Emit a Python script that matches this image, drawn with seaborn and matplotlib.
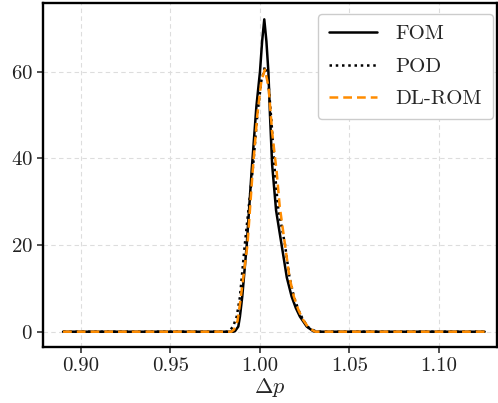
import numpy as np
import pandas as pd
import matplotlib
matplotlib.use("Agg")
import matplotlib.pyplot as plt
import seaborn as sns

# ---- data ----
fom_x = [0.890, 0.985, 0.986, 0.9879, 0.9888, 0.9901, 0.9926, 0.9954, 0.998, 1.000,
         1.0012, 1.0024, 1.0036, 1.0047, 1.0056, 1.0068, 1.0090, 1.0121, 1.0150,
         1.0177, 1.0200, 1.0223, 1.0261, 1.0298, 1.031, 1.1255]
fom_y = [0.0, 0.0, 0.1, 1.2, 3.5, 8.1, 20.0, 37.5, 52.0, 60.0,
         67.0, 72.1, 67.0, 60.0, 50.0, 38.5, 28.0, 20.0, 12.5,
         8.1, 5.5, 3.5, 1.2, 0.1, 0.0, 0.0]

pod_x = [0.890, 0.982, 0.983, 0.985, 0.987, 0.9888, 0.9915, 0.9962, 0.9985, 1.0008,
         1.0028, 1.0048, 1.0065, 1.0080, 1.0100, 1.0140, 1.0165, 1.0190, 1.0215,
         1.0240, 1.0270, 1.0310, 1.032, 1.1255]
pod_y = [0.0, 0.0, 0.2, 1.2, 3.5, 8.0, 20.0, 38.5, 50.0, 58.0,
         61.2, 57.0, 48.0, 38.5, 29.0, 20.0, 12.5, 8.0, 5.0,
         2.8, 1.0, 0.1, 0.0, 0.0]

dl_x = [0.890, 0.984, 0.9855, 0.9875, 0.989, 0.993, 0.996, 0.9985, 1.0008,
        1.0028, 1.0048, 1.0068, 1.0093, 1.0110, 1.0140, 1.0165, 1.0190, 1.0215,
        1.0240, 1.0270, 1.0300, 1.031, 1.1255]
dl_y = [0.0, 0.0, 0.5, 2.5, 7.0, 20.0, 37.5, 50.0, 58.0,
        60.5, 56.5, 46.0, 37.0, 29.0, 20.0, 12.5, 8.0, 5.0,
        2.8, 1.0, 0.2, 0.0, 0.0]

labels = ["FOM", "POD", "DL-ROM"]
x_ticks = [0.90, 0.95, 1.00, 1.05, 1.10]
y_ticks = [0, 20, 40, 60]

# ---- style ----
sns.set_style("ticks")
plt.rcParams["font.family"] = ["cmr10", "DejaVu Serif"]
plt.rcParams["mathtext.fontset"] = "cm"
plt.rcParams["axes.formatter.use_mathtext"] = True
plt.rcParams["font.size"] = 15

fig = plt.figure(figsize=(4.98, 4.03), dpi=100)
ax = fig.add_axes([43 / 498, (403 - 346.7) / 403, (497 - 43) / 498, (346.7 - 3.3) / 403])

sns.lineplot(x=fom_x, y=fom_y, ax=ax, color="black", lw=1.8, ls="-", label=labels[0])
sns.lineplot(x=pod_x, y=pod_y, ax=ax, color="black", lw=1.8, ls=(0, (1, 1.5)), label=labels[1])
sns.lineplot(x=dl_x, y=dl_y, ax=ax, color="#ff8c00", lw=1.8, ls=(0, (3.5, 2)), label=labels[2])

ax.set_xlim(0.8788, 1.1324)
ax.set_ylim(-3.46, 75.8)
ax.set_xticks(x_ticks)
ax.set_xticklabels([f"{t:.2f}" for t in x_ticks])
ax.set_yticks(y_ticks)
ax.set_xlabel(r"$\Delta p$", fontsize=16, labelpad=1)
ax.set_ylabel("")
ax.tick_params(labelsize=15, length=4, width=1.2, colors="#333333", labelcolor="#222222")
ax.grid(True, ls=(0, (4, 3)), color="#dddddd", lw=0.8)
for s in ax.spines.values():
    s.set_color("black")
    s.set_linewidth(1.7)

leg = ax.legend(loc="upper right", fontsize=15, handlelength=2.3, fancybox=True,
                framealpha=1.0, edgecolor="#cccccc", borderaxespad=0.0,
                bbox_to_anchor=(493 / 498, 1 - 14 / 403), bbox_transform=fig.transFigure,
                labelspacing=0.67, handletextpad=0.9, borderpad=0.52)

fig.savefig("out.png", dpi=100)
